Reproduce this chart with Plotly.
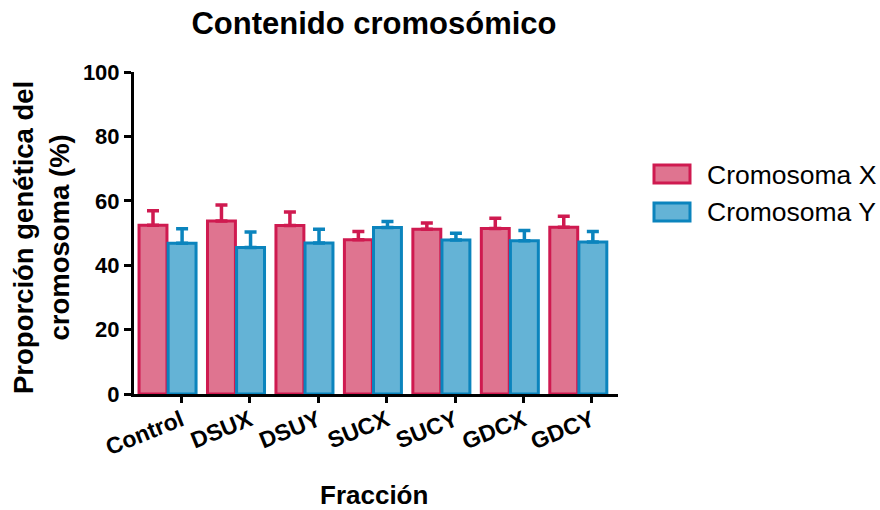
import plotly.graph_objects as go

# Fractions on the x axis
categorias = ["Control", "DSUX", "DSUY", "SUCX", "SUCY", "GDCX", "GDCY"]

# Mean chromosome content (%) and upper error (SEM)
media_x = [52.4, 53.7, 52.3, 47.9, 51.2, 51.4, 51.8]
error_x = [4.5, 5.0, 4.2, 2.6, 1.9, 3.2, 3.4]
media_y = [46.8, 45.5, 46.9, 51.7, 47.8, 47.6, 47.2]
error_y = [4.5, 4.8, 4.3, 1.9, 2.1, 3.2, 3.3]

serie_x = "Cromosoma X"
serie_y = "Cromosoma Y"

y_ticks = [0, 20, 40, 60, 80, 100]

FILL_X, LINE_X = "#df7490", "#cf1a50"
FILL_Y, LINE_Y = "#64b3d6", "#0b84bd"
FONT = "Liberation Sans, Arial, sans-serif"

pos = list(range(len(categorias)))

fig = go.Figure()
fig.add_trace(go.Bar(
    x=pos, y=media_x, name=serie_x,
    marker=dict(color=FILL_X, line=dict(color=LINE_X, width=3)),
    error_y=dict(type="data", symmetric=False, array=error_x,
                 arrayminus=[0] * len(error_x), color=LINE_X,
                 thickness=3.5, width=6),
))
fig.add_trace(go.Bar(
    x=pos, y=media_y, name=serie_y,
    marker=dict(color=FILL_Y, line=dict(color=LINE_Y, width=3)),
    error_y=dict(type="data", symmetric=False, array=error_y,
                 arrayminus=[0] * len(error_y), color=LINE_Y,
                 thickness=3.5, width=6),
))

L, R, T, B = 134, 262, 72, 116
W = 880 - L - R
H = 510 - T - B

fig.update_layout(
    width=880, height=510,
    margin=dict(l=L, r=R, t=T, b=B),
    paper_bgcolor="white", plot_bgcolor="white",
    barmode="group", bargap=0.15, bargroupgap=0.04,
    showlegend=False,
    font=dict(family=FONT, color="black"),
    title=dict(text="<b>Contenido cromosómico</b>", x=(374 - L) / W, xref="paper",
               xanchor="center", y=1 - 23 / 510, yanchor="middle",
               font=dict(size=31, family=FONT, color="black")),
)

fig.update_xaxes(
    range=[-0.49, len(categorias) - 0.42],
    tickmode="array", tickvals=[p + 0.2 for p in pos], ticktext=categorias,
    tickangle=-22, tickfont=dict(size=23, family=FONT, color="black", weight="bold"),
    ticklabelstandoff=-5,
    showline=True, linecolor="black", linewidth=3,
    ticks="outside", ticklen=6, tickwidth=3, tickcolor="black",
    showgrid=False, zeroline=False,
)
fig.update_yaxes(
    range=[0, 100], tickmode="array", tickvals=y_ticks,
    tickfont=dict(size=22, family=FONT, color="black", weight="bold"),
    showline=True, linecolor="black", linewidth=3,
    ticks="outside", ticklen=7, tickwidth=3, tickcolor="black",
    showgrid=False, zeroline=False,
)

# Axis titles
fig.add_annotation(
    text="<b>Proporción genética del<br>cromosoma (%)</b>",
    xref="paper", yref="paper", x=(41 - L) / W, y=(394 - 238) / H,
    xanchor="center", yanchor="middle", textangle=-90, showarrow=False,
    font=dict(size=27.5, family=FONT, color="black"),
)
fig.add_annotation(
    text="<b>Fracción</b>", xref="paper", yref="paper",
    x=(374 - L) / W, y=(394 - 495) / H, xanchor="center", yanchor="middle",
    showarrow=False, font=dict(size=26, family=FONT, color="black"),
)

# Legend
def px_x(v):
    return (v - L) / W


def px_y(v):
    return (394 - v) / H


leyenda = [(serie_x, FILL_X, LINE_X, 165, 183, 175),
           (serie_y, FILL_Y, LINE_Y, 203, 221, 212)]
for nombre, relleno, borde, top, bot, yt in leyenda:
    fig.add_shape(type="rect", xref="paper", yref="paper",
                  x0=px_x(654), x1=px_x(690), y0=px_y(bot), y1=px_y(top),
                  fillcolor=relleno, line=dict(color=borde, width=3))
    fig.add_annotation(text=nombre, xref="paper", yref="paper",
                       x=px_x(705), y=px_y(yt), xanchor="left", yanchor="middle",
                       showarrow=False,
                       font=dict(size=26.5, family=FONT, color="black"))

fig.write_html("out.html")
